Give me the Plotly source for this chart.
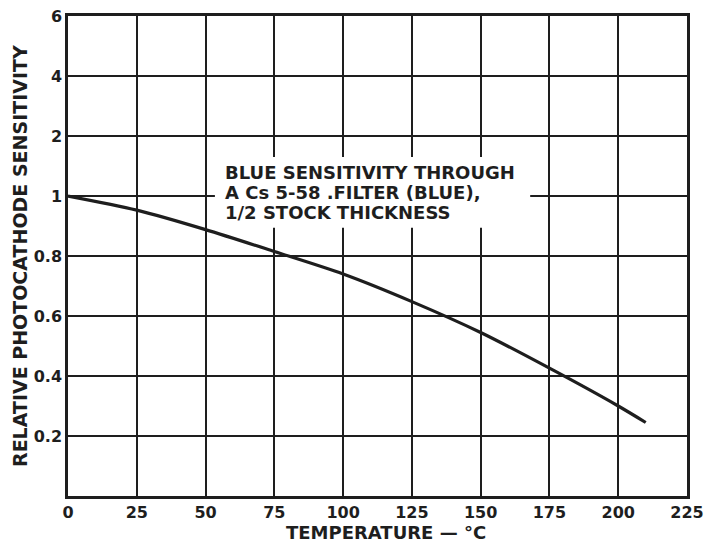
import numpy as np
import plotly.graph_objects as go

# Data
temperature_c = [0, 25, 50, 75, 100, 125, 150, 175, 200, 210]
sensitivity = [1.0, 0.953, 0.888, 0.815, 0.740, 0.648, 0.545, 0.426, 0.30, 0.245]

x_ticks = [0, 25, 50, 75, 100, 125, 150, 175, 200, 225]
y_tick_values = [0, 0.2, 0.4, 0.6, 0.8, 1, 2, 4, 6]
y_tick_labels = ["", "0.2", "0.4", "0.6", "0.8", "1", "2", "4", "6"]
note_lines = ["BLUE SENSITIVITY THROUGH", "A Cs 5-58 .FILTER (BLUE),", "1/2 STOCK THICKNESS"]

# The chart's y scale places each tick value at an equal step
y_positions = list(range(len(y_tick_values)))


def to_axis(v):
    return np.interp(v, y_tick_values, y_positions)


FONT = "DejaVu Sans"
INK = "#1e1e1e"

fig = go.Figure()
fig.add_trace(go.Scatter(
    x=temperature_c,
    y=to_axis(np.array(sensitivity)),
    mode="lines",
    line=dict(color=INK, width=3.2, shape="spline", smoothing=0.8),
    showlegend=False,
    hoverinfo="skip",
))

# White box that interrupts the grid behind the note
fig.add_shape(type="rect", xref="x", yref="y", x0=53.4, x1=168, y0=4.47, y1=5.65,
              fillcolor="white", line=dict(width=0), layer="between")
for line_text, ypos in zip(note_lines, [5.40, 5.065, 4.72]):
    fig.add_annotation(
        x=56.5, y=ypos, xref="x", yref="y", xanchor="left", yanchor="middle",
        text=f"<b>{line_text}</b>", showarrow=False,
        font=dict(family=FONT, size=18, color=INK),
    )

# Axis titles
fig.add_annotation(
    x=0, y=0.5, xref="paper", yref="paper", xanchor="center", yanchor="middle",
    xshift=-48, textangle=-90, showarrow=False,
    text="<b>RELATIVE PHOTOCATHODE SENSITIVITY</b>",
    font=dict(family=FONT, size=19, color=INK),
)
fig.add_annotation(
    x=0.5, y=0, xref="paper", yref="paper", xanchor="center", yanchor="middle",
    xshift=8, yshift=-36, showarrow=False,
    text="<b>TEMPERATURE — °C</b>",
    font=dict(family=FONT, size=18, color=INK),
)

fig.update_layout(
    width=705, height=543,
    margin=dict(l=68, r=18, t=16, b=47),
    paper_bgcolor="white", plot_bgcolor="white",
    font=dict(family=FONT, color=INK, size=15),
)
fig.update_xaxes(
    range=[0, 225], tickvals=x_ticks, ticktext=[f"<b>{t}</b>" for t in x_ticks],
    showgrid=True, gridcolor=INK, gridwidth=2,
    showline=True, linecolor=INK, linewidth=2.5, mirror=True,
    zeroline=False, ticks="", ticklen=0, automargin=False,
    tickfont=dict(family=FONT, size=16, color=INK),
)
fig.update_yaxes(
    range=[0, 8], tickvals=y_positions, ticktext=[f"<b>{t}</b>" for t in y_tick_labels],
    showgrid=True, gridcolor=INK, gridwidth=2,
    showline=True, linecolor=INK, linewidth=2.5, mirror=True,
    zeroline=False, ticks="", ticklen=0, automargin=False,
    tickfont=dict(family=FONT, size=16, color=INK),
)

fig.write_html("out.html", config={"displayModeBar": False},
               post_script="document.body.style.margin='0';")
